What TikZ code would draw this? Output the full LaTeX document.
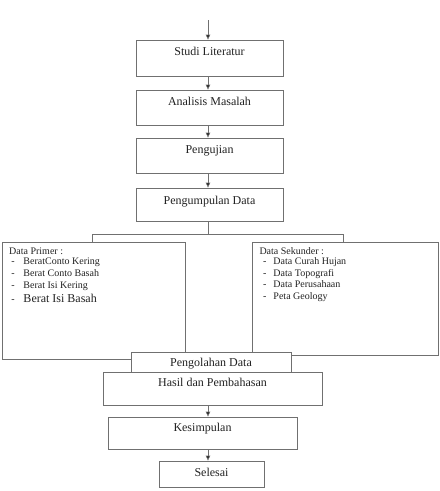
\documentclass[tikz,border=0pt]{standalone}
\usepackage{fontspec}
\setmainfont{Liberation Serif}
\usetikzlibrary{arrows.meta}
\definecolor{edge}{HTML}{707070}
\definecolor{ink}{HTML}{222222}
\begin{document}
\begin{tikzpicture}[x=1pt,y=-1pt,
  box/.style={draw=edge,line width=0.8pt,fill=white,rectangle,inner sep=0pt},
  title/.style={inner sep=0pt,anchor=base,font=\fontsize{12}{14}\selectfont,text=ink},
  item/.style={inner sep=0pt,anchor=base west,font=\fontsize{10}{12}\selectfont,text=ink},
  bigitem/.style={inner sep=0pt,anchor=base west,font=\fontsize{12}{14}\selectfont,text=ink},
  link/.style={draw=edge,line width=0.8pt},
  flow/.style={link,-{Triangle[length=5pt,width=4.5pt,fill=black]}}]
\useasboundingbox (0,0) rectangle (440,491);
\coordinate (axis) at (208,0);
\coordinate (start) at (208,20);
% main boxes
\node[box,minimum width=147pt,minimum height=36pt] (studi) at (209.5,58) {};
\node[title] (tstudi) at (209.5,55.7) {Studi Literatur};
\node[box,minimum width=147pt,minimum height=35pt] (anal) at (209.5,107.5) {};
\node[title] (tanal) at (209.5,105) {Analisis Masalah};
\node[box,minimum width=147pt,minimum height=35pt] (uji) at (209.5,155.5) {};
\node[title] (tuji) at (209.5,153.3) {Pengujian};
\node[box,minimum width=147pt,minimum height=33pt] (kumpul) at (209.5,204.5) {};
\node[title] (tkumpul) at (209.5,204) {Pengumpulan Data};
% data boxes
\node[box,minimum width=183pt,minimum height=117pt] (primer) at (93.5,300.5) {};
\node[box,minimum width=186pt,minimum height=113pt] (sekunder) at (345,298.5) {};
% primer list
\node[item] (p0) at (9,254) {Data Primer :};
\node[item] (p1) at (11.3,264.3) {\makebox[12pt][l]{-}BeratConto Kering};
\node[item] (p2) at (11.3,276.4) {\makebox[12pt][l]{-}Berat Conto Basah};
\node[item] (p3) at (11.3,288.3) {\makebox[12pt][l]{-}Berat Isi Kering};
\node[bigitem] (p4) at (11.3,302.3) {\makebox[12pt][l]{\fontsize{10}{12}\selectfont -}Berat Isi Basah};
% sekunder list
\node[item] (s0) at (259.3,254) {Data Sekunder :};
\node[item] (s1) at (263,264.3) {\makebox[10.3pt][l]{-}Data Curah Hujan};
\node[item] (s2) at (263,276) {\makebox[10.3pt][l]{-}Data Topografi};
\node[item] (s3) at (263,287.7) {\makebox[10.3pt][l]{-}Data Perusahaan};
\node[item] (s4) at (263,299.3) {\makebox[10.3pt][l]{-}Peta Geology};
% lower boxes
\node[box,minimum width=160pt,minimum height=20pt] (olah) at (211,362) {};
\node[title] (tolah) at (211,366.7) {Pengolahan Data};
\node[box,minimum width=219pt,minimum height=33pt] (hasil) at (212.5,388.5) {};
\node[title] (thasil) at (212.5,386) {Hasil dan Pembahasan};
\node[box,minimum width=189pt,minimum height=32pt] (simpul) at (202.5,433) {};
\node[title] (tsimpul) at (202.5,431.7) {Kesimpulan};
\node[box,minimum width=105pt,minimum height=26pt] (selesai) at (211.5,474) {};
\node[title] (tselesai) at (211.5,476) {Selesai};
% connectors
\draw[flow] (start) -- (studi.north -| axis);
\draw[flow] (studi.south -| axis) -- (anal.north -| axis);
\draw[flow] (anal.south -| axis) -- (uji.north -| axis);
\draw[flow] (uji.south -| axis) -- (kumpul.north -| axis);
\coordinate (bl) at (92,234);
\coordinate (br) at (343,234);
\draw[link] (kumpul.south -| axis) -- (axis |- bl);
\draw[link] (primer.north -| bl) -- (bl) -- (br) -- (sekunder.north -| br);
\draw[flow] (hasil.south -| axis) -- (simpul.north -| axis);
\draw[flow] (simpul.south -| axis) -- (selesai.north -| axis);
\end{tikzpicture}
\end{document}
